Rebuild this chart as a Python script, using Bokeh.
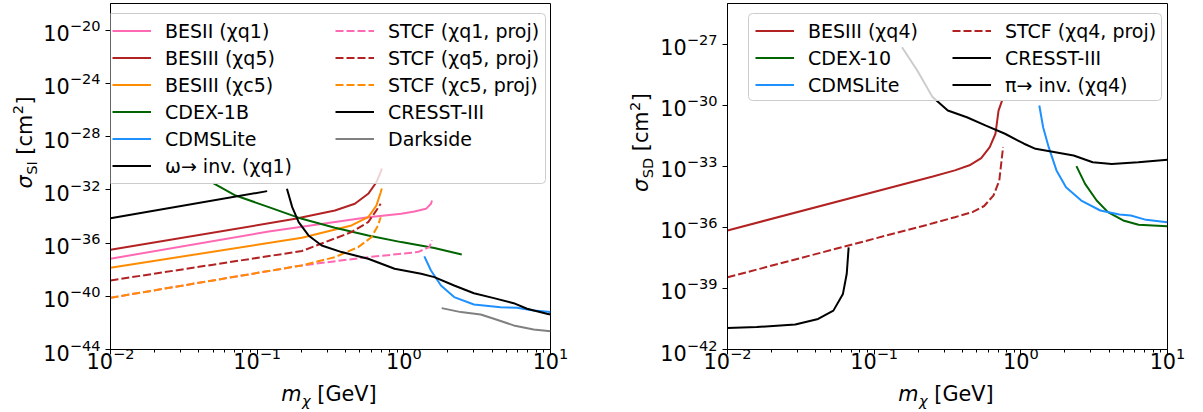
import numpy as np
from math import pi
from bokeh.plotting import figure
from bokeh.models import Range1d, FixedTicker, Legend, LegendItem, BoxAnnotation, Label
from bokeh.layouts import row, column
from bokeh.embed import file_html
from bokeh.resources import INLINE

FONT = "DejaVu Sans"
FS = 20.8      # axis labels / ticks
LFS = 19       # legend

# ---------------- data: log10(m_chi / GeV), log10(sigma / cm^2) ----------------
# Left panel (spin independent)
besii_q1_m = [-2.0, -0.921, -0.243, -0.018, 0.072, 0.151, 0.185, 0.192]
besii_q1_s = [-37.18, -35.13, -34.06, -33.80, -33.63, -33.43, -33.05, -32.8]
besiii_q5_m = [-2.0, -0.74, -0.47, -0.334, -0.243, -0.187, -0.158, -0.150]
besiii_q5_s = [-36.51, -34.18, -33.55, -33.05, -32.30, -31.43, -30.67, -30.4]
besiii_c5_m = [-2.0, -0.695, -0.357, -0.243, -0.187, -0.158, -0.150]
besiii_c5_s = [-37.86, -35.6, -34.68, -34.06, -33.18, -32.2, -31.9]
cdex1b_m = [-1.30, -1.147, -0.921, -0.695, -0.47, -0.243, -0.018, 0.208, 0.395]
cdex1b_s = [-31.5, -32.43, -33.3, -34.18, -34.85, -35.43, -35.93, -36.38, -36.86]
cdms_l_m = [0.14, 0.185, 0.253, 0.343, 0.478, 0.659, 0.772, 0.885, 1.0]
cdms_l_s = [-37.0, -38.06, -39.19, -40.06, -40.62, -40.82, -40.87, -41.07, -41.19]
omega_m = [-2.0, -0.932]
omega_s = [-34.13, -32.1]
stcf_q1_m = [-2.0, -0.695, -0.243, 0.095, 0.174, 0.192]
stcf_q1_s = [-40.11, -37.68, -37.06, -36.68, -36.31, -35.8]
stcf_q5_m = [-2.0, -0.695, -0.357, -0.243, -0.187, -0.158]
stcf_q5_s = [-38.81, -36.6, -35.18, -34.43, -33.55, -33.05]
stcf_c5_m = [-2.0, -0.695, -0.47, -0.311, -0.221, -0.176, -0.158]
stcf_c5_s = [-40.11, -37.68, -37.06, -36.31, -35.56, -34.68, -34.06]
cresst_l_m = [-0.797, -0.761, -0.717, -0.65, -0.56, -0.424, -0.243, -0.063, 0.118, 0.208,
              0.343, 0.478, 0.614, 0.749, 0.84, 0.975, 1.0]
cresst_l_s = [-31.92, -33.3, -34.43, -35.43, -36.18, -36.68, -37.18, -37.93, -38.31, -38.56,
              -39.19, -39.77, -40.14, -40.52, -40.94, -41.31, -41.37]
darkside_m = [0.258, 0.389, 0.524, 0.614, 0.749, 0.885, 1.0]
darkside_s = [-40.89, -41.19, -41.37, -41.69, -42.19, -42.49, -42.62]

# Right panel (spin dependent)
besiii_q4_m = [-2.0, -0.6, -0.45, -0.35, -0.27, -0.212, -0.173, -0.152, -0.128]
besiii_q4_s = [-36.15, -33.5, -33.2, -32.95, -32.6, -32.06, -31.4, -30.26, -29.77]
cdex10_m = [0.379, 0.438, 0.517, 0.594, 0.698, 0.803, 0.998]
cdex10_s = [-32.99, -33.86, -34.68, -35.25, -35.66, -35.87, -35.94]
cdms_r_m = [0.126, 0.152, 0.19, 0.243, 0.308, 0.412, 0.542, 0.672, 0.75, 0.854, 0.998]
cdms_r_s = [-30.01, -31.08, -32.06, -33.2, -34.03, -34.68, -35.17, -35.37, -35.42, -35.63, -35.75]
stcf_q4_m = [-2.0, -0.6, -0.45, -0.33, -0.25, -0.186, -0.147, -0.121]
stcf_q4_s = [-38.45, -35.8, -35.5, -35.25, -34.95, -34.43, -33.7, -32.06]
cresst_r_m = [-0.81, -0.706, -0.602, -0.498, -0.368, -0.238, -0.108, 0.022, 0.1, 0.36, 0.49, 0.62, 0.8, 1.0]
cresst_r_s = [-27.15, -28.29, -29.6, -30.26, -30.59, -31.0, -31.4, -31.89, -32.14, -32.47, -32.8, -32.88, -32.8, -32.68]
pi_inv_m = [-2.0, -1.8, -1.538, -1.382, -1.278, -1.213, -1.187, -1.174]
pi_inv_s = [-40.94, -40.9, -40.77, -40.5, -40.09, -39.27, -38.28, -36.98]

PINK, RED, ORANGE, GREEN, BLUE, GRAY = "#ff69b4", "#b22222", "#ff8c00", "#006400", "#1e90ff", "#808080"

left_col1 = [
    ("BESII (χq1)", besii_q1_m, besii_q1_s, PINK, "solid"),
    ("BESIII (χq5)", besiii_q5_m, besiii_q5_s, RED, "solid"),
    ("BESIII (χc5)", besiii_c5_m, besiii_c5_s, ORANGE, "solid"),
    ("CDEX-1B", cdex1b_m, cdex1b_s, GREEN, "solid"),
    ("CDMSLite", cdms_l_m, cdms_l_s, BLUE, "solid"),
    ("ω→ inv. (χq1)", omega_m, omega_s, "black", "solid"),
]
left_col2 = [
    ("STCF (χq1, proj)", stcf_q1_m, stcf_q1_s, PINK, "dashed"),
    ("STCF (χq5, proj)", stcf_q5_m, stcf_q5_s, RED, "dashed"),
    ("STCF (χc5, proj)", stcf_c5_m, stcf_c5_s, ORANGE, "dashed"),
    ("CRESST-III", cresst_l_m, cresst_l_s, "black", "solid"),
    ("Darkside", darkside_m, darkside_s, GRAY, "solid"),
]
right_col1 = [
    ("BESIII (χq4)", besiii_q4_m, besiii_q4_s, RED, "solid"),
    ("CDEX-10", cdex10_m, cdex10_s, GREEN, "solid"),
    ("CDMSLite", cdms_r_m, cdms_r_s, BLUE, "solid"),
]
right_col2 = [
    ("STCF (χq4, proj)", stcf_q4_m, stcf_q4_s, RED, "dashed"),
    ("CRESST-III", cresst_r_m, cresst_r_s, "black", "solid"),
    ("π→ inv. (χq4)", pi_inv_m, pi_inv_s, "black", "solid"),
]

EM = {'σ': 0.634, 'S': 0.635, 'I': 0.295, 'D': 0.770, ' ': 0.318, '[': 0.390, ']': 0.390,
      'c': 0.550, 'm': 0.974, '2': 0.636, 'χ': 0.592, 'G': 0.775, 'e': 0.615, 'V': 0.684}
MID = 0.36   # distance from text baseline to the middle of its box, in em


def twidth(s, size):
    return sum(EM.get(ch, 0.6) for ch in s) * size


def rich_label(p, pieces, center, base, vertical):
    # pieces: (text, size, baseline shift, style, gap before); every piece is centred on its own box
    total = sum(twidth(t, s) + g for t, s, _, _, g in pieces)
    pos = center - total / 2
    for t, s, shift, style, gap in pieces:
        pos += gap
        w = twidth(t, s)
        kw = dict(text=t, x_units="screen", y_units="screen", text_font=FONT,
                  text_font_size=f"{s:.1f}px", text_font_style=style, text_color="black",
                  text_align="center", text_baseline="middle")
        up = shift + MID * s     # middle of the box, above the main baseline
        if vertical:
            lab = Label(x=base - up, y=pos + w / 2, angle=pi / 2, **kw)
        else:
            lab = Label(x=pos + w / 2, y=base + up, **kw)
        p.add_layout(lab)
        pos += w


FW, FH = 443, 346
TOP, BOT = 3, 34
HM = TOP + FH + BOT          # height of the main figures
HX = 411 - HM                # height of the x-label strips


def blank_fig(w, h):
    f = figure(width=w, height=h, min_border=0, toolbar_location=None, output_backend="svg",
               x_range=Range1d(0, 1), y_range=Range1d(0, 1),
               x_axis_location=None, y_axis_location=None,
               background_fill_color="white", border_fill_color="white")
    f.outline_line_color = None
    f.grid.visible = False
    return f


def make_fig(ylo, yhi, ystep, bl, br):
    p = figure(x_axis_type="log", y_axis_type="log", width=bl + FW + br, height=HM,
               x_range=Range1d(1e-2, 1e1), y_range=Range1d(10.0 ** ylo, 10.0 ** yhi),
               min_border_left=bl, min_border_right=br, min_border_top=TOP,
               min_border_bottom=BOT, output_backend="svg", toolbar_location=None,
               background_fill_color="white", border_fill_color="white")
    p.xgrid.visible = False
    p.ygrid.visible = False
    p.outline_line_color = "black"
    p.outline_line_alpha = 1
    p.outline_line_width = 1
    xt = [10.0 ** e for e in (-2, -1, 0, 1)]
    xm = [k * 10.0 ** e for e in (-2, -1, 0) for k in range(2, 10)]
    p.xaxis.ticker = FixedTicker(ticks=xt, minor_ticks=xm)
    p.yaxis.ticker = FixedTicker(ticks=[10.0 ** e for e in range(ylo, yhi, ystep)], minor_ticks=[])
    for ax in (p.xaxis, p.yaxis):
        ax.axis_line_color = "black"
        ax.major_tick_line_color = "black"
        ax.minor_tick_line_color = "black"
        ax.major_tick_in = 0
        ax.major_tick_out = 5
        ax.minor_tick_in = 0
        ax.minor_tick_out = 3
        ax.major_label_text_font = FONT
        ax.major_label_text_font_size = f"{FS}px"
        ax.major_label_text_color = "black"
    p.xaxis.major_label_standoff = -8
    p.yaxis.major_label_standoff = 5
    return p


def add_curves(p, col):
    items = []
    for name, m, s, color, dash in col:
        r = p.line(10.0 ** np.array(m), 10.0 ** np.array(s), line_color=color, line_width=2,
                   line_dash=("8 3" if dash == "dashed" else "solid"))
        items.append(LegendItem(label=name, renderers=[r]))
    return items


GH, SP, PAD = 25, 2, 5


def add_legend(p, items, vx, top_off):
    h = len(items) * GH + (len(items) - 1) * SP + 2 * PAD
    lg = Legend(items=items, location=(vx, FH - top_off - h), orientation="vertical",
                glyph_width=39, glyph_height=GH, label_height=GH, spacing=SP, padding=PAD,
                margin=0, label_standoff=14, label_text_font=FONT,
                label_text_font_size=f"{LFS}px", label_text_color="black",
                background_fill_alpha=0, border_line_alpha=0)
    p.add_layout(lg)


def add_box(p, left, right, top_off, bottom_off):
    p.add_layout(BoxAnnotation(left=left, right=right, top=FH - top_off, bottom=FH - bottom_off,
                               left_units="screen", right_units="screen", top_units="screen",
                               bottom_units="screen", fill_color="white", fill_alpha=0.8,
                               line_color="#cccccc", line_width=1, line_alpha=1,
                               border_radius=4, level="annotation"))


SPACE = EM[' '] * FS


def xlabel_pieces():
    return [("m", FS, 0, "italic", 0), ("χ", FS * 0.7, -4.5, "italic", 0.5),
            ("[GeV]", FS, 0, "normal", SPACE)]


def ylabel_pieces(sub):
    return [("σ", FS, 0, "italic", 0), (sub, FS * 0.7, -4.5, "normal", 0.5),
            ("[cm", FS, 0, "normal", SPACE), ("2", FS * 0.7, 8.5, "normal", 0.5),
            ("]", FS, 0, "normal", 0.5)]


XL_BASE = HX - (400.5 - HM)   # x-label baseline, measured from strip bottom

# ---------------- left panel ----------------
YL1_W, BL1, BR1 = 40, 67, 65
p1 = make_fig(-44, -18, 4, BL1, BR1)
it1 = add_curves(p1, left_col1)
it2 = add_curves(p1, left_col2)
add_box(p1, -3, 435, 10, 180)
add_legend(p1, it1, -3, 10)
add_legend(p1, it2, 220, 10)

yl1 = blank_fig(YL1_W, HM)
rich_label(yl1, ylabel_pieces("SI"), HM - TOP - FH / 2, 31.5, True)
xl1 = blank_fig(YL1_W + BL1 + FW + BR1, HX)
rich_label(xl1, xlabel_pieces(), YL1_W + BL1 + FW / 2, XL_BASE, False)

# ---------------- right panel ----------------
YL2_W, BL2, BR2 = 42, 67, 28
p2 = make_fig(-42, -25, 3, BL2, BR2)
ir1 = add_curves(p2, right_col1)
ir2 = add_curves(p2, right_col2)
add_box(p2, 21, 434, 10, 97)
add_legend(p2, ir1, 23, 10)
add_legend(p2, ir2, 220, 10)

yl2 = blank_fig(YL2_W, HM)
rich_label(yl2, ylabel_pieces("SD"), HM - TOP - FH / 2, 33, True)
xl2 = blank_fig(YL2_W + BL2 + FW + BR2, HX)
rich_label(xl2, xlabel_pieces(), YL2_W + BL2 + FW / 2, XL_BASE, False)

left_block = column(row(yl1, p1), xl1)
right_block = column(row(yl2, p2), xl2)
layout = row(left_block, right_block)
open("out.html", "w").write(file_html(layout, INLINE))
